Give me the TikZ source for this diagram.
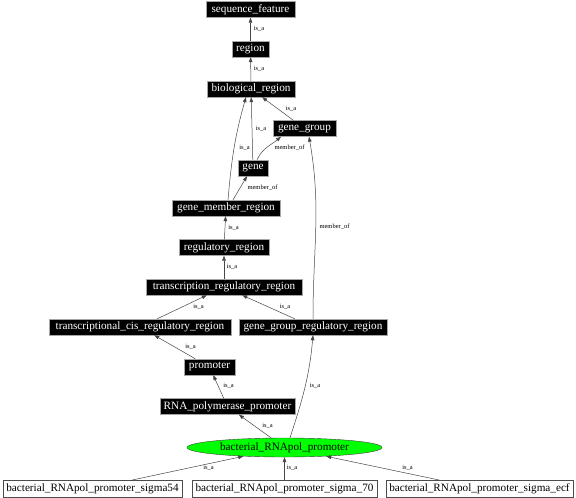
\documentclass[tikz,border=0pt]{standalone}
\usepackage{fontspec}
\setmainfont{Liberation Serif}
\usetikzlibrary{arrows.meta,shapes.geometric}
\begin{document}
\begin{tikzpicture}[x=1pt,y=-1pt,
 blk/.style={draw=gray!70,fill=black,text=white,font=\fontsize{11.2}{12}\selectfont,inner xsep=2pt,inner ysep=0pt,minimum height=16pt},
 wht/.style={draw=gray!60!black,fill=white,text=black,font=\fontsize{11.2}{12}\selectfont,inner xsep=2pt,inner ysep=0pt,minimum height=16.5pt},
 ell/.style={ellipse,draw=gray!50!black,fill=green,text=black,font=\fontsize{11.2}{12}\selectfont,minimum width=195pt,minimum height=19pt,inner sep=0pt},
 edge/.style={draw=gray!55!black,line width=0.5pt,-{Triangle[length=5pt,width=3.6pt]}},
 lbl/.style={font=\fontsize{6.5}{7}\selectfont,inner sep=0pt}]
\fill[white] (0,0) rectangle (576,498);
\useasboundingbox (0,0) rectangle (576,498);
% nodes
\node[blk,minimum width=89pt]  (seqf) at (250.5,9.5)  {sequence\_feature};
\node[blk,minimum width=37pt]  (region) at (250.5,49) {region};
\node[blk,minimum width=88pt]  (bio) at (251,89) {biological\_region};
\node[blk,minimum width=63pt]  (gg) at (304.5,128.5) {gene\_group};
\node[blk,minimum width=30pt]  (gene) at (253,168) {gene};
\node[blk,minimum width=108pt] (gmr) at (226,208) {gene\_member\_region};
\node[blk,minimum width=90pt]  (rr) at (224,247.5) {regulatory\_region};
\node[blk,minimum width=156pt] (trr) at (224,287) {transcription\_regulatory\_region};
\node[blk,minimum width=182pt] (tcrr) at (140,327) {transcriptional\_cis\_regulatory\_region};
\node[blk,minimum width=148pt] (ggrr) at (313,327) {gene\_group\_regulatory\_region};
\node[blk,minimum width=51pt]  (prom) at (209.5,367) {promoter};
\node[blk,minimum width=135pt] (rnapp) at (227.5,406.5) {RNA\_polymerase\_promoter};
\node[ell] (bact) at (284.5,447.5) {bacterial\_RNApol\_promoter};
\node[wht,minimum width=179pt] (s54) at (92.5,488.5) {bacterial\_RNApol\_promoter\_sigma54};
\node[wht,minimum width=185pt] (s70) at (284.5,488.5) {bacterial\_RNApol\_promoter\_sigma\_70};
\node[wht,minimum width=187pt] (secf) at (479.5,488.5) {bacterial\_RNApol\_promoter\_sigma\_ecf};
% edges
\draw[edge] (region) -- (seqf);
\draw[edge] (bio) -- (region);
\draw[edge] (gg) -- (bio);
\draw[edge] (gene) -- (bio);
\draw[edge] ([xshift=2pt]gmr.north) to[out=85,in=-106] ([xshift=-5pt]bio.south);
\draw[edge] ([xshift=4pt]gene.north) to[out=65,in=-140] ([xshift=-23.5pt]gg.south);
\draw[edge] ([xshift=7pt]gmr.north) -- ([xshift=-6pt]gene.south);
\draw[edge] (rr) -- (gmr);
\draw[edge] (trr) -- (rr);
\draw[edge] (tcrr) -- (trr);
\draw[edge] (ggrr) -- (trr);
\draw[edge] (ggrr.north) to[out=90,in=-80] ([xshift=4.5pt]gg.south);
\draw[edge] (prom) -- (tcrr);
\draw[edge] (rnapp) -- (prom);
\draw[edge] (bact) -- (rnapp);
\draw[edge] ([xshift=5.5pt]bact.north) to[out=72,in=-95] (ggrr.south);
\draw[edge] (s54) -- (bact);
\draw[edge] (s70) -- (bact);
\draw[edge] (secf) -- (bact);
% edge labels
\node[lbl] (l1) at (259,29) {is\_a};
\node[lbl] (l2) at (259,69) {is\_a};
\node[lbl] (l3) at (291,109) {is\_a};
\node[lbl] (l4) at (261,129) {is\_a};
\node[lbl] (l5) at (244.5,148) {is\_a};
\node[lbl] (l6) at (289.5,148) {member\_of};
\node[lbl] (l7) at (262.5,188) {member\_of};
\node[lbl] (l8) at (233.5,228) {is\_a};
\node[lbl] (l9) at (232,267) {is\_a};
\node[lbl] (l10) at (198.5,307) {is\_a};
\node[lbl] (l11) at (285,307) {is\_a};
\node[lbl] (l12) at (190.5,347) {is\_a};
\node[lbl] (l13) at (228.5,386) {is\_a};
\node[lbl] (l14) at (267.5,426) {is\_a};
\node[lbl] (l15) at (315,386) {is\_a};
\node[lbl] (l16) at (334.5,227) {member\_of};
\node[lbl] (l17) at (208.5,468) {is\_a};
\node[lbl] (l18) at (292,468) {is\_a};
\node[lbl] (l19) at (407.5,468) {is\_a};
\end{tikzpicture}
\end{document}
